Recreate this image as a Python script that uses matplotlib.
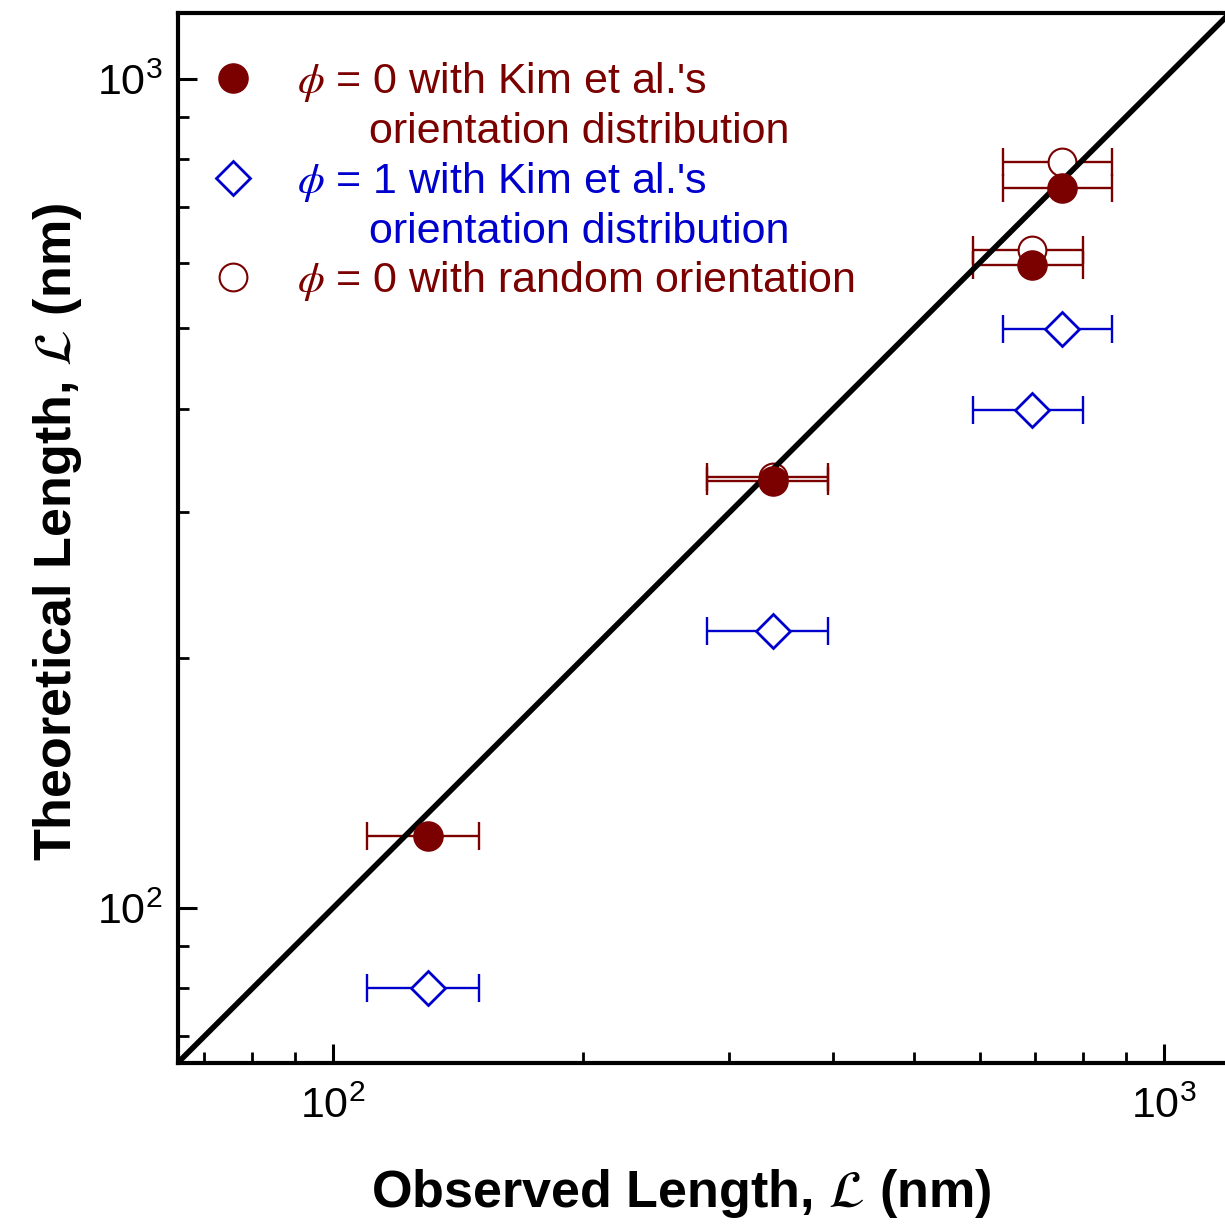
import matplotlib
matplotlib.use("Agg")
from matplotlib import pyplot as plt
from matplotlib.lines import Line2D
from matplotlib.ticker import NullFormatter, LogLocator
from matplotlib import font_manager

plt.rcParams['mathtext.fontset'] = 'stix'
plt.rcParams['font.family'] = ['Liberation Sans', 'DejaVu Sans']

DARKRED = '#7B0000'
BLUE = '#0000CC'

# observed length (nm) with x error bars
observed = [130, 338, 694, 753]
observed_err = [20, 56, 105, 112]

# theoretical length (nm)
phi0_kim = [122, 327, 597, 738]
phi1_kim = [80, 216, 399, 499]
phi0_random = [None, 331, 622, 793]

label_phi0_kim = [r"$\phi$ = 0 with Kim et al.'s", "      orientation distribution"]
label_phi1_kim = [r"$\phi$ = 1 with Kim et al.'s", "      orientation distribution"]
label_phi0_random = r"$\phi$ = 0 with random orientation"

xlabel = r"Observed Length, $\mathcal{L}$ (nm)"
ylabel = r"Theoretical Length, $\mathcal{L}$ (nm)"
lims = [65, 1200]

# condensed bold for axis titles if we have one
names = {f.name for f in font_manager.fontManager.ttflist}
if 'Liberation Sans Narrow' in names:
    lab_font = dict(family=['Liberation Sans Narrow'], weight='bold', size=42)
else:
    lab_font = dict(family=['Liberation Sans'], weight='bold', size=37.5)

fig = plt.figure(figsize=(12.25, 12.26), dpi=100)
ax = fig.add_axes([0.1449, 0.1329, 0.8590, 0.8563])
ax.set_xscale('log')
ax.set_yscale('log')

# y = x reference line
ax.plot(lims, lims, color='black', lw=4, zorder=2)

# random orientation (open circles), beneath line
xr = [x for x, y in zip(observed, phi0_random) if y is not None]
er = [e for e, y in zip(observed_err, phi0_random) if y is not None]
yr = [y for y in phi0_random if y is not None]
ax.errorbar(xr, yr, xerr=er, fmt='none', ecolor=DARKRED, elinewidth=1.7,
            capsize=10, capthick=1.7, zorder=1)
ax.plot(xr, yr, 'o', ms=20, mfc='white', mec=DARKRED, mew=1.5, zorder=1.5)

# phi = 1 (diamonds)
ax.errorbar(observed, phi1_kim, xerr=observed_err, fmt='none', ecolor=BLUE,
            elinewidth=1.7, capsize=10, capthick=1.7, zorder=1)
ax.plot(observed, phi1_kim, 'D', ms=17.5, mfc='white', mec=BLUE, mew=2, zorder=3)

# phi = 0 (filled circles), markers above line
ax.errorbar(observed, phi0_kim, xerr=observed_err, fmt='none', ecolor=DARKRED,
            elinewidth=1.7, capsize=10, capthick=1.7, zorder=1)
ax.plot(observed, phi0_kim, 'o', ms=21, color=DARKRED, zorder=3)

ax.set_xlim(lims)
ax.set_ylim(lims)

for axis in (ax.xaxis, ax.yaxis):
    axis.set_major_locator(LogLocator(base=10))
    axis.set_minor_locator(LogLocator(base=10, subs=range(2, 10)))
    axis.set_minor_formatter(NullFormatter())

ax.tick_params(which='major', direction='in', length=13.5, width=2.2, labelsize=31)
ax.tick_params(which='minor', direction='in', length=8, width=2)
ax.tick_params(axis='x', which='major', pad=17)
ax.tick_params(axis='y', which='major', pad=11)
for s in ax.spines.values():
    s.set_linewidth(3)

ax.set_xlabel(xlabel, fontdict=lab_font, va='center')
ax.xaxis.set_label_coords(0.4785, -0.1245)
ax.set_ylabel(ylabel, fontdict=lab_font, va='center')
ax.yaxis.set_label_coords(-0.1136, 0.506)

blank = Line2D([], [], linestyle='none', marker='none')
handles = [
    Line2D([], [], linestyle='none', marker='o', ms=21, color=DARKRED),
    blank,
    Line2D([], [], linestyle='none', marker='D', ms=17.5, mfc='white', mec=BLUE, mew=2),
    blank,
    Line2D([], [], linestyle='none', marker='o', ms=20, mfc='white', mec=DARKRED, mew=1.5),
]
labels = [label_phi0_kim[0], label_phi0_kim[1], label_phi1_kim[0], label_phi1_kim[1], label_phi0_random]
leg = ax.legend(handles, labels, loc='upper left', bbox_to_anchor=(0.0223, 0.955),
                frameon=False, fontsize=31, handlelength=1.5, handletextpad=0.74,
                borderpad=0, borderaxespad=0, labelspacing=0.18)
for t, c in zip(leg.get_texts(), [DARKRED, DARKRED, BLUE, BLUE, DARKRED]):
    t.set_color(c)

fig.savefig('out.png', dpi=100)
